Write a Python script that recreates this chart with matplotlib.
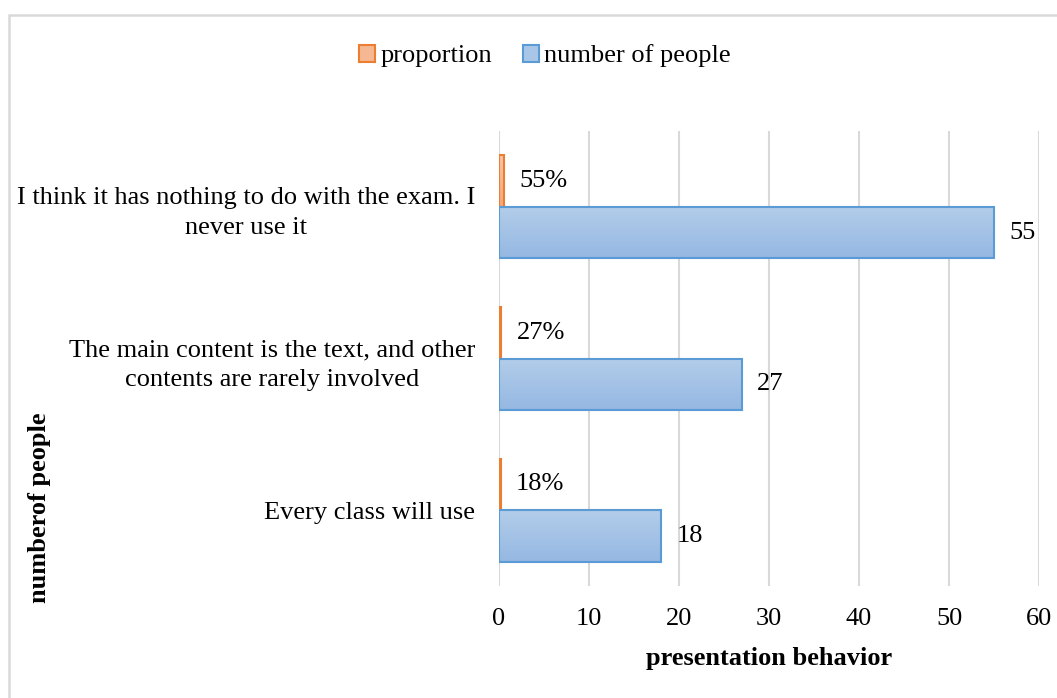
import numpy as np
import matplotlib
matplotlib.use("Agg")
import matplotlib.pyplot as plt
import matplotlib.patches as mpatches
from matplotlib.colors import LinearSegmentedColormap

plt.rcParams["font.family"] = ["Liberation Serif", "DejaVu Serif"]

# ── Data ─────────────────────────────────────────────────────────────────────
categories = [
    "Every class will use",
    "The main content is the text, and other\ncontents are rarely involved",
    "I think it has nothing to do with the exam. I\nnever use it",
]
people = [18, 27, 55]
proportion = [0.18, 0.27, 0.55]
proportion_labels = ["18%", "27%", "55%"]
x_ticks = [0, 10, 20, 30, 40, 50, 60]

BLUE_EDGE = "#5B9BD5"
ORANGE_EDGE = "#ED7D31"
FS = 19
blue_cmap = LinearSegmentedColormap.from_list("b", ["#B3CDEA", "#95B8E2"])
orange_cmap = LinearSegmentedColormap.from_list("o", ["#F8C6A8", "#F2A77C"])

fig = plt.figure(figsize=(10.57, 6.98), dpi=100)
fig.patch.set_facecolor("white")

# chart frame
frame = mpatches.Rectangle((8.5 / 1057, -0.05), 1.2, 1 - 14.5 / 698 + 0.05,
                           transform=fig.transFigure, fill=False,
                           edgecolor="#D9D9D9", linewidth=1.8)
fig.patches.append(frame)

ax = fig.add_axes([499 / 1057, 1 - 586 / 698, 540 / 1057, 455 / 698])

y = np.arange(len(categories))
h = 0.34
bars_p = ax.barh(y + h / 2, proportion, height=h, color="none",
                 edgecolor=ORANGE_EDGE, linewidth=1.5, zorder=3)
bars_n = ax.barh(y - h / 2, people, height=h, color="none",
                 edgecolor=BLUE_EDGE, linewidth=1.5, zorder=3)

# vertical gradient fills
grad = np.linspace(0, 1, 64).reshape(-1, 1)
for bars, cmap in [(bars_p, orange_cmap), (bars_n, blue_cmap)]:
    for b in bars:
        x0, y0 = b.get_x(), b.get_y()
        im = ax.imshow(grad, cmap=cmap, aspect="auto", origin="upper",
                       extent=[x0, x0 + b.get_width(), y0, y0 + b.get_height()],
                       zorder=2)
        im.set_clip_path(b)

for b, lab in zip(bars_p, proportion_labels):
    ax.annotate(lab, (b.get_width(), b.get_y() + b.get_height() / 2),
                xytext=(11, 0), textcoords="offset points",
                ha="left", va="center", fontsize=FS, color="#000000")
for b, v in zip(bars_n, people):
    ax.annotate(str(v), (b.get_width(), b.get_y() + b.get_height() / 2),
                xytext=(11, 0), textcoords="offset points",
                ha="left", va="center", fontsize=FS, color="#000000")

ax.set_xlim(0, 60)
ax.set_ylim(-0.5, len(categories) - 0.5)
ax.set_xticks(x_ticks)
ax.set_yticks(y)
ax.set_yticklabels(categories, multialignment="center", linespacing=1.45)
ax.tick_params(axis="y", length=0, pad=17, labelsize=FS)
ax.tick_params(axis="x", length=0, pad=16, labelsize=FS)
ax.grid(axis="x", color="#D9D9D9", linewidth=1.5, zorder=0)
ax.set_axisbelow(True)
for s in ax.spines.values():
    s.set_visible(False)

ax.set_xlabel("presentation behavior", fontsize=FS, fontweight="bold", labelpad=12)
fig.text(40 / 1057, 1 - 508 / 698, "numberof people", rotation=90,
         ha="center", va="center", fontsize=FS, fontweight="bold")

handles = [
    mpatches.Patch(facecolor="#F5B892", edgecolor=ORANGE_EDGE, linewidth=1.5, label="proportion"),
    mpatches.Patch(facecolor="#A9C6E8", edgecolor=BLUE_EDGE, linewidth=1.5, label="number of people"),
]
fig.legend(handles=handles, loc="center", bbox_to_anchor=(545 / 1057, 1 - 56 / 698),
           ncol=2, frameon=False, fontsize=FS, handlelength=0.6, handleheight=0.6,
           handletextpad=0.2, columnspacing=1.2)

fig.savefig("out.png", dpi=100, facecolor="white")
